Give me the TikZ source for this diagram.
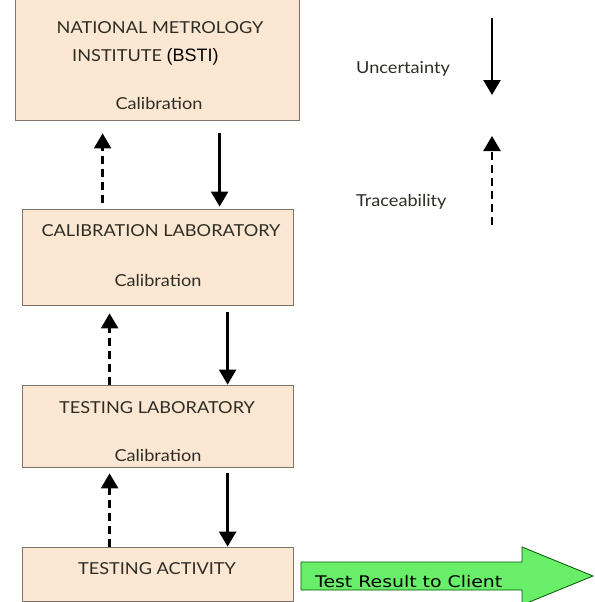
\documentclass[tikz,border=0pt]{standalone}
\usepackage{fontspec}
\setmainfont{Lato}[FakeStretch=1.1]
\newfontfamily\arialfont{Liberation Sans}
\newfontfamily\verdfont{DejaVu Sans}[FakeStretch=1.18]
\usetikzlibrary{arrows.meta}
\definecolor{peach}{RGB}{252,232,210}
\definecolor{edge}{RGB}{125,115,105}
\definecolor{ink}{RGB}{45,45,38}
\definecolor{lime}{RGB}{105,238,105}
\begin{document}
\begin{tikzpicture}[x=1pt,y=-1pt,
  box/.style={draw=edge, fill=peach, line width=0.8pt, inner sep=0pt},
  txt/.style={text=ink, font=\fontsize{16.5}{18}\selectfont, inner sep=0pt, anchor=base},
  unc/.style={line width=2.4pt, -{Triangle[width=17pt,length=15pt]}},
  trc/.style={unc, dash pattern=on 8pt off 5pt}]
\useasboundingbox (0,0) rectangle (594,602);
% boxes
\node[box, minimum width=284pt, minimum height=121pt] (nmi)  at (157,59.5) {};
\node[box, minimum width=271pt, minimum height=96pt]  (cal)  at (157.5,257) {};
\node[box, minimum width=271pt, minimum height=82pt]  (tlab) at (157.5,426) {};
\node[box, minimum width=271pt, minimum height=54pt]  (act)  at (157.5,574) {};
% texts
\node[txt] (nmiA) at (160,34) {NATIONAL METROLOGY};
\node[txt, anchor=base west] (nmiB) at (72,61.5) {INSTITUTE {\arialfont\fontsize{18}{20}\selectfont\color{black}(BSTI)}};
\node[txt] (nmiC) at (159,109) {Calibration};
\node[txt] (calA) at (161,236) {CALIBRATION LABORATORY};
\node[txt] (calB) at (158,286) {Calibration};
\node[txt] (tlabA) at (157,413) {TESTING LABORATORY};
\node[txt] (tlabB) at (158,461) {Calibration};
\node[txt] (actA) at (157,574) {TESTING ACTIVITY};
% arrows between boxes
\draw[trc, shorten <=6pt, shorten >=13pt] ([xshift=81pt]cal.north west) -- ([xshift=88pt]nmi.south west);
\draw[unc, shorten <=13pt, shorten >=2pt] ([xshift=205pt]nmi.south west) -- ([xshift=198pt]cal.north west);
\draw[trc, shorten >=8pt] ([xshift=88pt]tlab.north west) -- ([xshift=88pt]cal.south west);
\draw[unc, shorten <=7pt] ([xshift=206pt]cal.south west) -- ([xshift=206pt]tlab.north west);
\draw[trc, shorten >=6pt] ([xshift=88pt]act.north west) -- ([xshift=88pt]tlab.south west);
\draw[unc, shorten <=6pt] ([xshift=206pt]tlab.south west) -- ([xshift=206pt]act.north west);
% legend
\coordinate (u0) at (492,18);
\coordinate (u1) at (492,95);
\coordinate (t0) at (492,225);
\coordinate (t1) at (492,136);
\draw[unc] (u0) -- (u1);
\draw[trc] (t0) -- (t1);
\node[txt, anchor=base west] (unc) at (356,74) {Uncertainty};
\node[txt, anchor=base west] (trc) at (356,206) {Traceability};
% result
\draw[draw=green!35!black, fill=lime, line width=0.8pt] (301,562) -- (522,562) -- (522,547) -- (593,576) -- (522,605) -- (522,590) -- (301,590) -- cycle;
\node[anchor=base west, inner sep=0pt, font=\verdfont\fontsize{16}{18}\selectfont] (res) at (315,587.5) {Test Result to Client};
\end{tikzpicture}
\end{document}
